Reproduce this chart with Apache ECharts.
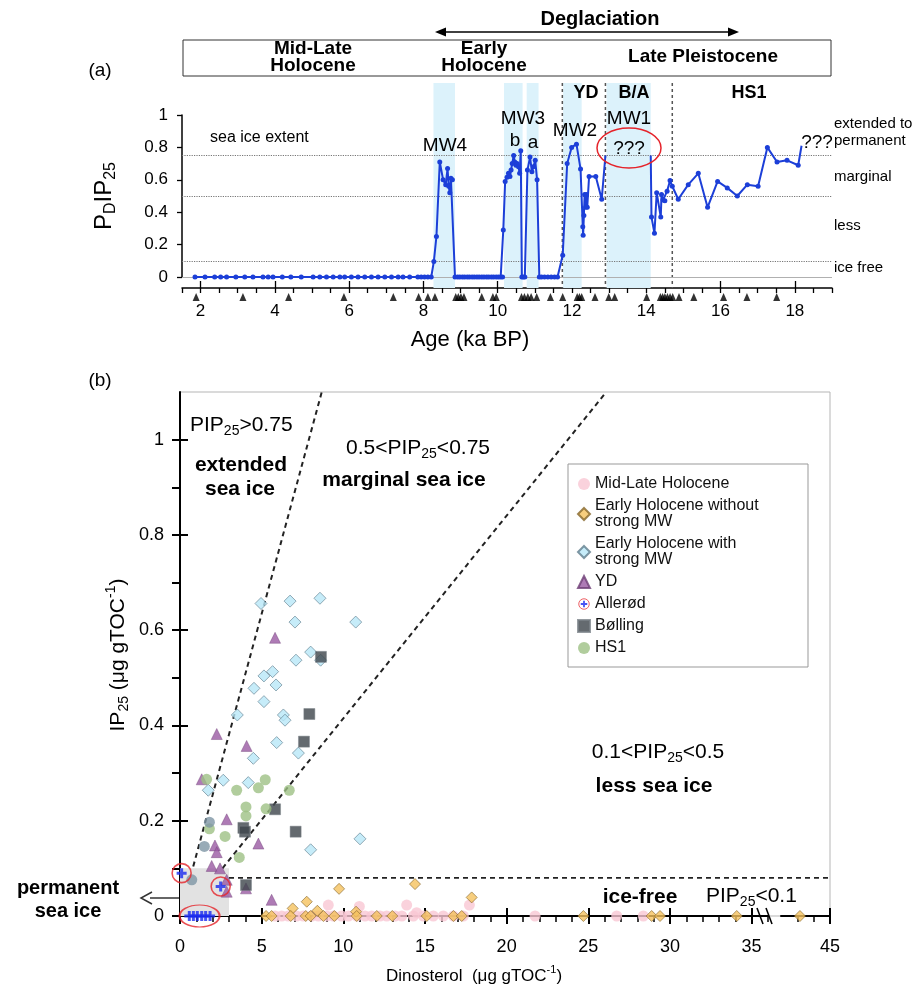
<!DOCTYPE html>
<html>
<head>
<meta charset="utf-8">
<title>PDIP25 record and IP25 vs dinosterol</title>
<script src="https://cdn.jsdelivr.net/npm/echarts@6.0.0/dist/echarts.min.js"></script>
<style>
html,body{margin:0;padding:0;background:#ffffff;}
#chart{width:921px;height:997px;}
</style>
</head>
<body>
<div id="chart"></div>
<script>
// ======================= DATA =======================
// ---- Panel (a): PDIP25 vs age (ka BP); null = no record (MW1 gap) ----
const pdip25Record = [
  [1.85,0],[2.12,0],[2.38,0],[2.54,0],[2.70,0],[2.95,0],[3.19,0],[3.41,0],[3.68,0],[3.82,0],[3.95,0],
  [4.20,0],[4.43,0],[4.71,0],[5.03,0],[5.21,0],[5.39,0],[5.57,0],[5.75,0],[5.88,0],[6.06,0],[6.24,0],
  [6.42,0],[6.60,0],[6.78,0],[6.96,0],[7.14,0],[7.32,0],[7.45,0],[7.63,0],[7.85,0],[7.94,0],[8.03,0],
  [8.12,0],[8.21,0],
  [8.28,0.095],[8.35,0.25],[8.44,0.71],[8.53,0.60],[8.60,0.57],[8.65,0.67],[8.68,0.56],[8.71,0.52],
  [8.74,0.61],[8.78,0.60],
  [8.85,0],[8.92,0],[8.98,0],[9.05,0],[9.11,0],[9.18,0],[9.24,0],[9.31,0],[9.37,0],[9.44,0],[9.50,0],
  [9.57,0],[9.63,0],[9.70,0],[9.76,0],[9.83,0],[9.89,0],[9.96,0],[10.02,0],[10.08,0],[10.13,0],
  [10.15,0.29],[10.20,0.59],[10.25,0.615],[10.29,0.64],[10.33,0.62],[10.36,0.66],[10.39,0.70],
  [10.43,0.75],[10.46,0.71],[10.49,0.69],[10.52,0.70],[10.56,0.68],[10.59,0.64],[10.62,0.78],
  [10.65,0],[10.69,0],[10.73,0],
  [10.80,0.66],[10.87,0.74],[10.92,0.65],[10.96,0.68],[11.01,0.72],[11.06,0.60],
  [11.12,0],[11.18,0],[11.26,0],[11.35,0],[11.44,0],[11.53,0],[11.61,0],
  [11.75,0.134],[11.87,0.70],[11.99,0.80],[12.12,0.82],[12.23,0.667],[12.29,0.31],[12.30,0.257],
  [12.32,0.38],[12.34,0.51],[12.37,0.43],[12.39,0.51],[12.41,0.43],[12.46,0.62],[12.64,0.62],
  [12.80,0.48],[12.90,0.75],
  [13.50,null],
  [14.12,0.75],[14.14,0.37],[14.22,0.27],[14.28,0.52],[14.39,0.37],[14.41,0.51],[14.45,0.475],
  [14.50,0.47],[14.56,0.53],[14.64,0.595],[14.70,0.56],[14.86,0.48],[15.13,0.57],[15.40,0.64],
  [15.65,0.43],[15.92,0.59],[16.18,0.55],[16.45,0.50],[16.72,0.57],[17.01,0.56],[17.26,0.80],
  [17.52,0.71],[17.79,0.72],[18.09,0.69],[18.18,0.81]
];
const pdip25OpenEnds = [12.90, 14.12, 18.18];          // line ends drawn without a marker
const ageControlPoints = [1.88,3.14,4.37,5.86,7.19,7.87,8.12,8.31,8.87,8.94,9.01,9.09,9.57,9.87,9.96,
  10.64,10.72,10.81,10.90,11.05,11.42,11.75,12.14,12.20,12.26,12.62,12.99,13.15,14.01,14.38,14.44,
  14.50,14.57,14.64,14.71,14.88,15.28,16.08,16.71,17.51];
const meltwaterBands = [[8.27,8.85],[10.17,10.67],[10.78,11.10],[11.76,12.26],[12.93,14.12]];
const periodBoundaries = [11.74, 12.90, 14.70];
const seaIceThresholds = [0.75, 0.5, 0.1];
const ageTickLabels = [2,4,6,8,10,12,14,16,18];

// ---- Panel (b): IP25 vs dinosterol (µg gTOC-1) ----
const dinoTickLabels = [0,5,10,15,20,25,30,35,45];
const dinoMinorTicks = [1,2,3,4,6,7,8,9,11,12,13,14,16,17,18,19,21,22,23,24,26,27,28,29,31,32,33,34,36,43,44];
const ip25MajorTicks = [0,0.2,0.4,0.6,0.8,1.0];
const ip25MinorTicks = [0.1,0.3,0.5,0.7,0.9];
const dinoBreak = {start:36, end:42, gap:0.8};

const midLateHolocene = [[5.82,0],[6.23,0],[6.63,0],[7.14,0],[7.55,0],[8.06,0],[8.47,0],[8.98,0],[9.39,0],
  [9.90,0],[10.31,0],[10.82,0],[11.33,0],[11.74,0],[12.25,0],[12.66,0],[13.17,0],[13.58,0],[14.29,0],
  [14.90,0],[15.51,0],[16.12,0],[16.74,0],[17.35,0],[9.08,0.023],[10.98,0.02],[13.88,0.023],[14.49,0.007],
  [17.72,0.023],[21.74,0],[26.74,0],[28.37,0]];
const earlyHoloceneNoMW = [[9.74,0.057],[14.39,0.067],[17.86,0.039],[7.76,0.030],[6.90,0.016],[8.41,0.011],
  [10.78,0.009],[5.27,0],[5.61,0],[6.78,0],[7.70,0],[8.00,0],[8.78,0],[9.45,0],[10.82,0],[12.05,0],[13.00,0],
  [15.11,0],[16.74,0],[17.25,0],[24.70,0],[28.88,0],[29.39,0],[34.09,0],[43.16,0]];
const earlyHoloceneMW = [[4.96,0.656],[6.74,0.661],[8.57,0.667],[7.04,0.617],[10.76,0.617],[8.00,0.554],
  [8.61,0.537],[7.10,0.537],[5.67,0.513],[5.14,0.504],[4.53,0.478],[5.88,0.485],[5.14,0.45],[3.51,0.422],
  [6.33,0.422],[6.43,0.411],[5.92,0.364],[7.25,0.342],[4.49,0.331],[2.65,0.285],[4.18,0.28],[1.73,0.264],
  [11.02,0.162],[8.00,0.139]];
const youngerDryas = [[5.82,0.584],[2.25,0.382],[4.08,0.357],[1.33,0.287],[2.86,0.203],[2.14,0.148],
  [2.25,0.134],[4.80,0.152],[1.94,0.105],[2.45,0.10],[2.86,0.076],[2.86,0.051],[4.04,0.058],[5.61,0.034]];
const allerod = [[0.10,0.09],[2.49,0.062],[0.57,0],[0.82,0],[1.06,0],[1.33,0],[1.57,0],[1.84,0]];
const bolling = [[8.63,0.544],[7.92,0.424],[7.59,0.366],[5.82,0.224],[3.88,0.185],[3.98,0.177],[7.08,0.177],[4.04,0.065]];
const hs1 = [[1.63,0.287],[3.47,0.264],[4.80,0.269],[5.22,0.286],[6.69,0.264],[4.04,0.229],[4.04,0.21],
  [5.27,0.225],[1.80,0.183],[2.76,0.167],[3.63,0.123]];
const unassigned = [[1.80,0.197],[1.49,0.146],[0.72,0.076]];

const extendedBoundary = [[0.81,0.104],[8.68,1.1]];
const marginalBoundary = [[2.6,0.10],[26.1,1.1]];
const iceFreeBoundary = [[3,0.08],[45,0.08]];
const permanentIceRegion = [[0,0],[3,0.1]];

// ======================= CHART =======================
const FONT = '"Liberation Sans", Arial, sans-serif';
const chart = echarts.init(document.getElementById('chart'), null, {renderer:'canvas'});

function rich(size, bold){
  const w = bold ? 'bold' : 'normal';
  return {
    n:{fontSize:size, fontFamily:FONT, fontWeight:w, lineHeight:size+6, verticalAlign:'middle'},
    s:{fontSize:Math.round(size*0.66), fontFamily:FONT, fontWeight:w, lineHeight:Math.round(size*0.6), verticalAlign:'bottom'},
    p:{fontSize:Math.round(size*0.66), fontFamily:FONT, fontWeight:w, lineHeight:Math.round(size*0.6), verticalAlign:'top'}
  };
}
function txt(x, y, text, size, opt){
  opt = opt || {};
  const el = {type:'text', x:x, y:y, silent:true, z:50,
    style:{text:text, fill:'#000', font:(opt.bold?'bold ':'')+size+'px '+FONT,
      align:opt.align||'center', verticalAlign:'middle'}};
  if (opt.rich) el.style.rich = rich(size, opt.bold);
  if (opt.rot) el.rotation = opt.rot;
  return el;
}

const allerodIcon = 'image://data:image/svg+xml;utf8,' + encodeURIComponent(
  '<svg xmlns="http://www.w3.org/2000/svg" width="24" height="24"><circle cx="12" cy="12" r="10.5" fill="white" stroke="#e5242b" stroke-width="1.8"/>' +
  '<path d="M10.2 5.5h3.6v4.7h4.7v3.6h-4.7v4.7h-3.6v-4.7h-4.7v-3.6h4.7z" fill="#1a2af0"/></svg>');
const crossPath = 'path://M3.5,0H6.5V3.5H10V6.5H6.5V10H3.5V6.5H0V3.5H3.5Z';

const zeroCross = allerod.filter(p => p[1] === 0);
const ellipseCenter = [zeroCross.reduce((s,p)=>s+p[0],0)/zeroCross.length, 0];

const lineData = pdip25Record.map(([a,v]) => {
  if (v === null) return [a,'-'];
  return pdip25OpenEnds.includes(a) ? {value:[a,v], symbol:'none'} : [a,v];
});

const gridA = {left:182, width:650, top:115, height:162};
const gridB = {left:180, width:650, top:392, height:524};

function hiddenPart(){ return {axisLine:{show:false, onZero:false}, axisLabel:{show:false}, splitLine:{show:false}}; }

const ageAxisBase = {gridIndex:0, type:'value', min:1.5, max:19, interval:0.5, offset:11, position:'bottom'};
const dinoAxisBase = {gridIndex:3, type:'value', min:0, max:45, interval:5, position:'bottom',
  breaks:[dinoBreak], breakArea:{show:false}};
const ipAxisBase = {gridIndex:3, type:'value', min:0, max:1.1, position:'left'};

const option = {
  animation:false,
  backgroundColor:'#fff',
  textStyle:{fontFamily:FONT},
  grid:[
    Object.assign({outerBoundsMode:'none', containLabel:false}, gridA),                         // 0 panel a
    {outerBoundsMode:'none', left:182, width:650, top:83, height:205},                           // 1 bands
    {outerBoundsMode:'none', left:182, width:650, top:292, height:10},                           // 2 age controls
    Object.assign({outerBoundsMode:'none', show:true, borderColor:'#b5b5b5', borderWidth:1}, gridB) // 3 panel b
  ],
  xAxis:[
    Object.assign({}, ageAxisBase, {
      axisLine:{show:true, onZero:false, lineStyle:{color:'#000', width:1.5}},
      axisTick:{show:true, length:5, lineStyle:{color:'#000', width:1.3}},
      axisLabel:{color:'#000', fontSize:17, margin:15,
        formatter:v => ageTickLabels.includes(v) ? String(v) : ''},
      splitLine:{show:false}}),
    Object.assign({}, ageAxisBase, hiddenPart(), {
      axisTick:{show:true, inside:true, length:7, customValues:ageTickLabels, lineStyle:{color:'#000', width:1.3}}}),
    {gridIndex:1, type:'value', min:1.5, max:19, show:false},
    {gridIndex:2, type:'value', min:1.5, max:19, show:false},
    Object.assign({}, dinoAxisBase, {
      axisLine:{show:true, onZero:false, lineStyle:{color:'#000', width:2}},
      axisTick:{show:true, length:8, customValues:dinoTickLabels, lineStyle:{color:'#000', width:2}},
      axisLabel:{color:'#000', fontSize:18, margin:22, customValues:dinoTickLabels,
        showMinLabel:true, showMaxLabel:true, hideOverlap:false},
      splitLine:{show:false}}),
    Object.assign({}, dinoAxisBase, hiddenPart(), {
      axisTick:{show:true, inside:true, length:8, customValues:dinoTickLabels, lineStyle:{color:'#000', width:2}}}),
    Object.assign({}, dinoAxisBase, hiddenPart(), {
      axisTick:{show:true, inside:false, length:6, customValues:dinoMinorTicks, lineStyle:{color:'#000', width:1.5}}})
  ],
  yAxis:[
    {gridIndex:0, type:'value', min:0, max:1, interval:0.2, position:'left',
      axisLine:{show:true, onZero:false, lineStyle:{color:'#000', width:1.5}},
      axisTick:{show:true, length:5, lineStyle:{color:'#000', width:1.3}},
      axisLabel:{color:'#000', fontSize:17, margin:14,
        formatter:v => (v === 0 ? '0' : v === 1 ? '1' : v.toFixed(1))},
      splitLine:{show:false}},
    {gridIndex:1, type:'value', min:0, max:1, show:false},
    {gridIndex:2, type:'value', min:0, max:1, show:false},
    Object.assign({}, ipAxisBase, {
      axisLine:{show:true, onZero:false, lineStyle:{color:'#000', width:2}},
      axisTick:{show:true, length:8, customValues:ip25MajorTicks, lineStyle:{color:'#000', width:2}},
      axisLabel:{color:'#000', fontSize:18, margin:16, customValues:ip25MajorTicks,
        formatter:v => (v === 0 ? '0' : v === 1 ? '1' : v.toFixed(1))},
      splitLine:{show:false}}),
    Object.assign({}, ipAxisBase, hiddenPart(), {
      axisTick:{show:true, inside:true, length:8, customValues:ip25MajorTicks, lineStyle:{color:'#000', width:2}}}),
    Object.assign({}, ipAxisBase, hiddenPart(), {
      axisTick:{show:true, inside:false, length:8, customValues:ip25MinorTicks, lineStyle:{color:'#000', width:2}}})
  ],
  legend:{
    show:true, orient:'vertical', left:577, top:476, padding:0, itemGap:6,
    itemWidth:12, itemHeight:12, selectedMode:false,
    textStyle:{fontFamily:FONT, fontSize:16, lineHeight:16, color:'#111'},
    data:['Mid-Late Holocene', 'Early Holocene without\nstrong MW', 'Early Holocene with\nstrong MW',
      'YD', {name:'Allerød', icon:allerodIcon}, 'Bølling', 'HS1']
  },
  series:[
    // ---- panel (a) ----
    {type:'custom', name:'MW bands', xAxisIndex:2, yAxisIndex:1, silent:true, z:1,
      data:meltwaterBands,
      renderItem:(params, api) => {
        const p0 = api.coord([api.value(0), 1]);
        const p1 = api.coord([api.value(1), 0]);
        return {type:'rect', shape:{x:p0[0], y:p0[1], width:p1[0]-p0[0], height:p1[1]-p0[1]},
          style:{fill:'#dcf2fb'}};
      }},
    {type:'custom', name:'period boundaries', xAxisIndex:2, yAxisIndex:1, silent:true, z:2,
      data:periodBoundaries.map(v => [v]),
      renderItem:(params, api) => {
        const p0 = api.coord([api.value(0), 1]);
        const p1 = api.coord([api.value(0), 0]);
        return {type:'line', shape:{x1:p0[0], y1:p0[1], x2:p1[0], y2:p1[1]},
          style:{stroke:'#555', lineWidth:1.5, lineDash:[3,3]}};
      }},
    {type:'line', name:'PDIP25', xAxisIndex:0, yAxisIndex:0, z:5,
      data:lineData, connectNulls:false, clip:false,
      symbol:'circle', symbolSize:5, showSymbol:true,
      itemStyle:{color:'#1c3fd8'}, lineStyle:{color:'#1c3fd8', width:2},
      markLine:{silent:true, symbol:['none','none'], label:{show:false},
        data:seaIceThresholds.map(v => ({yAxis:v, lineStyle:{type:'dotted', color:'#777', width:1.2}}))
          .concat([{yAxis:0, lineStyle:{type:'solid', color:'#b0b0b0', width:1}}])}},
    {type:'scatter', name:'age control', xAxisIndex:3, yAxisIndex:2, silent:true,
      data:ageControlPoints.map(a => [a, 0.5]), symbol:'triangle', symbolSize:[7,8],
      itemStyle:{color:'#000'}},
    // ---- panel (b) ----
    {type:'line', name:'ice-free boundary', xAxisIndex:4, yAxisIndex:3, silent:true, z:1,
      data:iceFreeBoundary, symbol:'none', lineStyle:{color:'#222', width:1.6, type:[5,4]},
      markArea:{silent:true, itemStyle:{color:'#e2e2e2'},
        data:[[{coord:permanentIceRegion[0]}, {coord:permanentIceRegion[1]}]]}},
    {type:'line', name:'extended boundary', xAxisIndex:4, yAxisIndex:3, silent:true, z:2,
      data:extendedBoundary, symbol:'none', lineStyle:{color:'#222', width:2, type:[5,4]}},
    {type:'line', name:'marginal boundary', xAxisIndex:4, yAxisIndex:3, silent:true, z:2,
      data:marginalBoundary, symbol:'none', lineStyle:{color:'#222', width:2, type:[5,4]}},
    {type:'scatter', name:'Mid-Late Holocene', xAxisIndex:4, yAxisIndex:3, z:3,
      data:midLateHolocene, symbol:'circle', symbolSize:11,
      itemStyle:{color:'#f9c7d3'}},
    {type:'scatter', name:'Early Holocene without\nstrong MW', xAxisIndex:4, yAxisIndex:3, z:4,
      data:earlyHoloceneNoMW, symbol:'diamond', symbolSize:11,
      itemStyle:{color:'#f5c25e', borderColor:'#86662a', borderWidth:0.8}},
    {type:'scatter', name:'Early Holocene with\nstrong MW', xAxisIndex:4, yAxisIndex:3, z:4,
      data:earlyHoloceneMW, symbol:'diamond', symbolSize:12,
      itemStyle:{color:'#b8e7f7', borderColor:'#5f7d8c', borderWidth:0.8}},
    {type:'scatter', name:'YD', xAxisIndex:4, yAxisIndex:3, z:5,
      data:youngerDryas, symbol:'triangle', symbolSize:11,
      itemStyle:{color:'#9a5aa2', borderColor:'#6e3f75', borderWidth:0.5}},
    {type:'scatter', name:'Bølling', xAxisIndex:4, yAxisIndex:3, z:6,
      data:bolling, symbol:'rect', symbolSize:11,
      itemStyle:{color:'#3d454b', borderColor:'#7a8288', borderWidth:0.6}},
    {type:'scatter', name:'HS1', xAxisIndex:4, yAxisIndex:3, z:7,
      data:hs1, symbol:'circle', symbolSize:11,
      itemStyle:{color:'#9dc185'}},
    {type:'scatter', name:'other', xAxisIndex:4, yAxisIndex:3, z:7,
      data:unassigned, symbol:'circle', symbolSize:11,
      itemStyle:{color:'#7e96a5'}},
    {type:'scatter', name:'Allerød', xAxisIndex:4, yAxisIndex:3, z:8,
      data:allerod, symbol:crossPath, symbolSize:10,
      itemStyle:{color:'#1a2af0'}},
    {type:'scatter', name:'Allerød marks', xAxisIndex:4, yAxisIndex:3, z:9, silent:true,
      data:allerod.filter(p => p[1] > 0), symbol:'circle', symbolSize:19,
      itemStyle:{color:'rgba(0,0,0,0)', borderColor:'#e5242b', borderWidth:1.6}},
    {type:'scatter', name:'Allerød group', xAxisIndex:4, yAxisIndex:3, z:9, silent:true,
      data:[ellipseCenter], symbol:'circle', symbolSize:[40,22],
      itemStyle:{color:'rgba(0,0,0,0)', borderColor:'#e5242b', borderWidth:1.6}}
  ],
  graphic:[
    // panel (a) header
    {type:'rect', shape:{x:183, y:40, width:648, height:36}, silent:true,
      style:{fill:'none', stroke:'#333', lineWidth:1}},
    txt(600, 19, 'Deglaciation', 20, {bold:true}),
    {type:'line', shape:{x1:444, y1:32, x2:730, y2:32}, silent:true, style:{stroke:'#000', lineWidth:1.5}},
    {type:'polygon', shape:{points:[[435,32],[446,27.5],[446,36.5]]}, silent:true, style:{fill:'#000'}},
    {type:'polygon', shape:{points:[[739,32],[728,27.5],[728,36.5]]}, silent:true, style:{fill:'#000'}},
    txt(313, 49, 'Mid-Late', 19, {bold:true}),
    txt(313, 66, 'Holocene', 19, {bold:true}),
    txt(484, 49, 'Early', 19, {bold:true}),
    txt(484, 66, 'Holocene', 19, {bold:true}),
    txt(703, 57, 'Late Pleistocene', 19, {bold:true}),
    txt(100, 71, '(a)', 19),
    txt(586, 93, 'YD', 18, {bold:true}),
    txt(634, 93, 'B/A', 18, {bold:true}),
    txt(749, 93, 'HS1', 18, {bold:true}),
    txt(445, 146, 'MW4', 19),
    txt(523, 119, 'MW3', 19),
    txt(515, 141, 'b', 19),
    txt(533, 143, 'a', 19),
    txt(575, 131, 'MW2', 19),
    txt(629, 119, 'MW1', 19),
    txt(629, 149, '???', 19),
    {type:'ellipse', shape:{cx:629, cy:148, rx:32, ry:20}, silent:true, z:50,
      style:{fill:'none', stroke:'#e5242b', lineWidth:1.5}},
    txt(817, 143, '???', 19),
    txt(210, 138, 'sea ice extent', 16, {align:'left'}),
    txt(834, 124, 'extended to', 15, {align:'left'}),
    txt(834, 141, 'permanent', 15, {align:'left'}),
    txt(834, 177, 'marginal', 15, {align:'left'}),
    txt(834, 226, 'less', 15, {align:'left'}),
    txt(834, 268, 'ice free', 15, {align:'left'}),
    txt(104, 196, '{n|P}{s|D}{n|IP}{s|25}', 24, {rich:true, rot:Math.PI/2}),
    txt(470, 340, 'Age (ka BP)', 22),
    // panel (b)
    txt(100, 381, '(b)', 19),
    txt(118, 655, '{n|IP}{s|25}{n| (μg gTOC}{p|-1}{n|)}', 21, {rich:true, rot:Math.PI/2}),
    txt(474, 976, '{n|Dinosterol  (μg gTOC}{p|-1}{n|)}', 17, {rich:true}),
    txt(190, 425, '{n|PIP}{s|25}{n|>0.75}', 21, {rich:true, align:'left'}),
    txt(241, 465, 'extended', 21, {bold:true}),
    txt(240, 489, 'sea ice', 21, {bold:true}),
    txt(418, 448, '{n|0.5<PIP}{s|25}{n|<0.75}', 21, {rich:true}),
    txt(404, 480, 'marginal sea ice', 21, {bold:true}),
    txt(658, 752, '{n|0.1<PIP}{s|25}{n|<0.5}', 21, {rich:true}),
    txt(654, 786, 'less sea ice', 21, {bold:true}),
    txt(640, 897, 'ice-free', 21, {bold:true}),
    txt(706, 896, '{n|PIP}{s|25}{n|<0.1}', 21, {rich:true, align:'left'}),
    txt(68, 888, 'permanent', 20, {bold:true}),
    txt(68, 911, 'sea ice', 20, {bold:true}),
    {type:'line', shape:{x1:150, y1:898, x2:204, y2:898}, silent:true, style:{stroke:'#333', lineWidth:1.5}},
    {type:'polyline', shape:{points:[[152,892],[141,898],[152,904]]}, silent:true, style:{stroke:'#333', lineWidth:1.5, fill:'none'}},
    {type:'line', shape:{x1:757, y1:908, x2:763, y2:924}, silent:true, z:60, style:{stroke:'#000', lineWidth:1.6}},
    {type:'line', shape:{x1:766, y1:908, x2:772, y2:924}, silent:true, z:60, style:{stroke:'#000', lineWidth:1.6}},
    {type:'rect', shape:{x:568, y:464, width:240, height:203}, silent:true, z:-1,
      style:{fill:'#fff', stroke:'#999', lineWidth:1}}
  ]
};
chart.setOption(option);
</script>
</body>
</html>
